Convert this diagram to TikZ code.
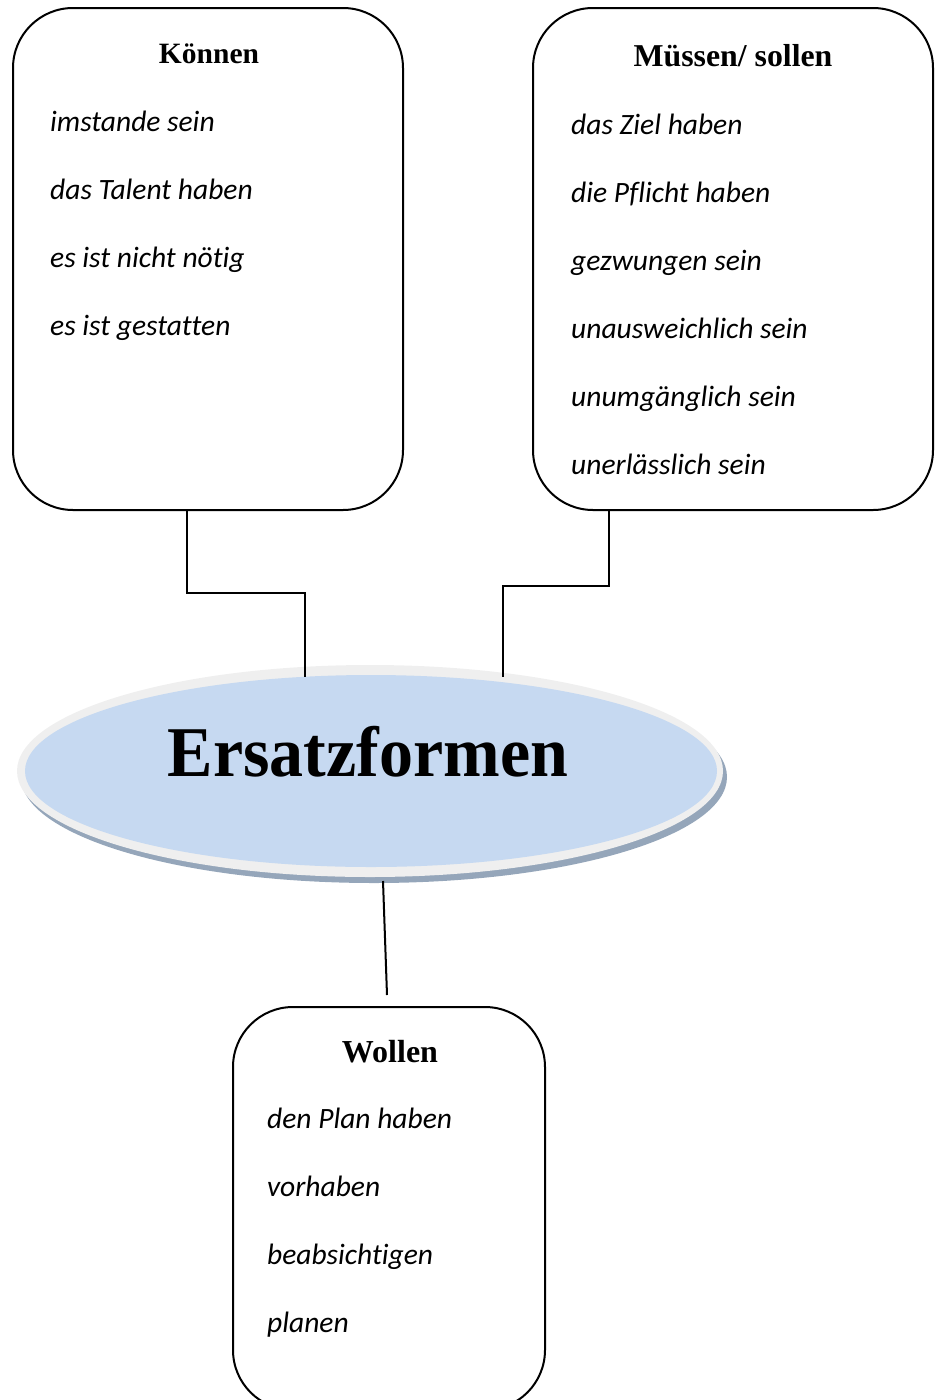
\documentclass[tikz,border=0pt]{standalone}
\usepackage{fontspec}
\setmainfont{Liberation Serif}
\newfontfamily\itemfont{Carlito}[Ligatures={NoCommon}]
\usetikzlibrary{shapes.geometric}
\definecolor{ovalblue}{HTML}{C6D9F1}
\definecolor{ovalrim}{HTML}{EFEFEF}
\definecolor{ovalshadow}{HTML}{95A6BA}
\tikzset{
  box/.style={draw=black, line width=2pt, rounded corners=60pt, rectangle, inner sep=0pt},
  heading/.style={anchor=base, inner sep=0pt},
  entry/.style={anchor=base west, inner sep=0pt, font=\fontsize{29.5}{29.5}\selectfont\itemfont\itshape},
  link/.style={draw=black, line width=2pt},
  oval/.style={ellipse, inner sep=0pt}
}
\begin{document}
\begin{tikzpicture}[x=1pt, y=-1pt]
\useasboundingbox (0,0) rectangle (935,1400);

% three rounded boxes
\node[box, minimum width=390pt, minimum height=502pt] (kon) at (208,259) {};
\node[box, minimum width=400pt, minimum height=502pt] (mus) at (733,259) {};
\node[box, minimum width=312pt, minimum height=403pt] (wol) at (389,1208.5) {};

% central oval: shadow, light rim, blue face
\node[oval, fill=ovalshadow, minimum width=706pt, minimum height=212pt] (shd) at (374,777) {};
\node[oval, fill=ovalrim, minimum width=706pt, minimum height=212pt] (rim) at (370,771) {};
\node[oval, fill=ovalblue, minimum width=692pt, minimum height=192pt] (ell) at (371,771) {};
\node[anchor=base, inner sep=0pt, font=\fontsize{68}{68}\selectfont\bfseries] (title) at (368,776) {\scalebox{1}[1.05]{Ersatzformen}};

% box contents
\node[heading, font=\fontsize{29.5}{29.5}\selectfont\bfseries] (konh) at (209,63) {Können};
\node[entry] (k1) at (50,131) {imstande sein};
\node[entry] (k2) at (50,199) {das Talent haben};
\node[entry] (k3) at (50,267) {es ist nicht nötig};
\node[entry] (k4) at (50,335) {es ist gestatten};

\node[heading, font=\fontsize{31.8}{31.8}\selectfont\bfseries] (mush) at (733,66) {Müssen/ sollen};
\node[entry] (m1) at (571,134) {das Ziel haben};
\node[entry] (m2) at (571,202) {die Pflicht haben};
\node[entry] (m3) at (571,270) {gezwungen sein};
\node[entry] (m4) at (571,338) {unausweichlich sein};
\node[entry] (m5) at (571,406) {unumgänglich sein};
\node[entry] (m6) at (571,474) {unerlässlich sein};

\node[heading, font=\fontsize{32}{32}\selectfont\bfseries] (wolh) at (390,1062) {Wollen};
\node[entry] (w1) at (267,1128) {den Plan haben};
\node[entry] (w2) at (267,1196) {vorhaben};
\node[entry] (w3) at (267,1264) {beabsichtigen};
\node[entry] (w4) at (267,1332) {planen};

% connectors
\coordinate (kbend) at (187,593);
\coordinate (kend) at (305,677);
\coordinate (mbend) at (609,586);
\coordinate (mend) at (503,677);
\coordinate (obot) at (383,881);
\coordinate (wtop) at (387,995);
\draw[link] (kon.south -| kbend) -- (kbend) -| (kend);
\draw[link] (mus.south -| mbend) -- (mbend) -| (mend);
\draw[link] (obot) -- (wtop);
\end{tikzpicture}
\end{document}
